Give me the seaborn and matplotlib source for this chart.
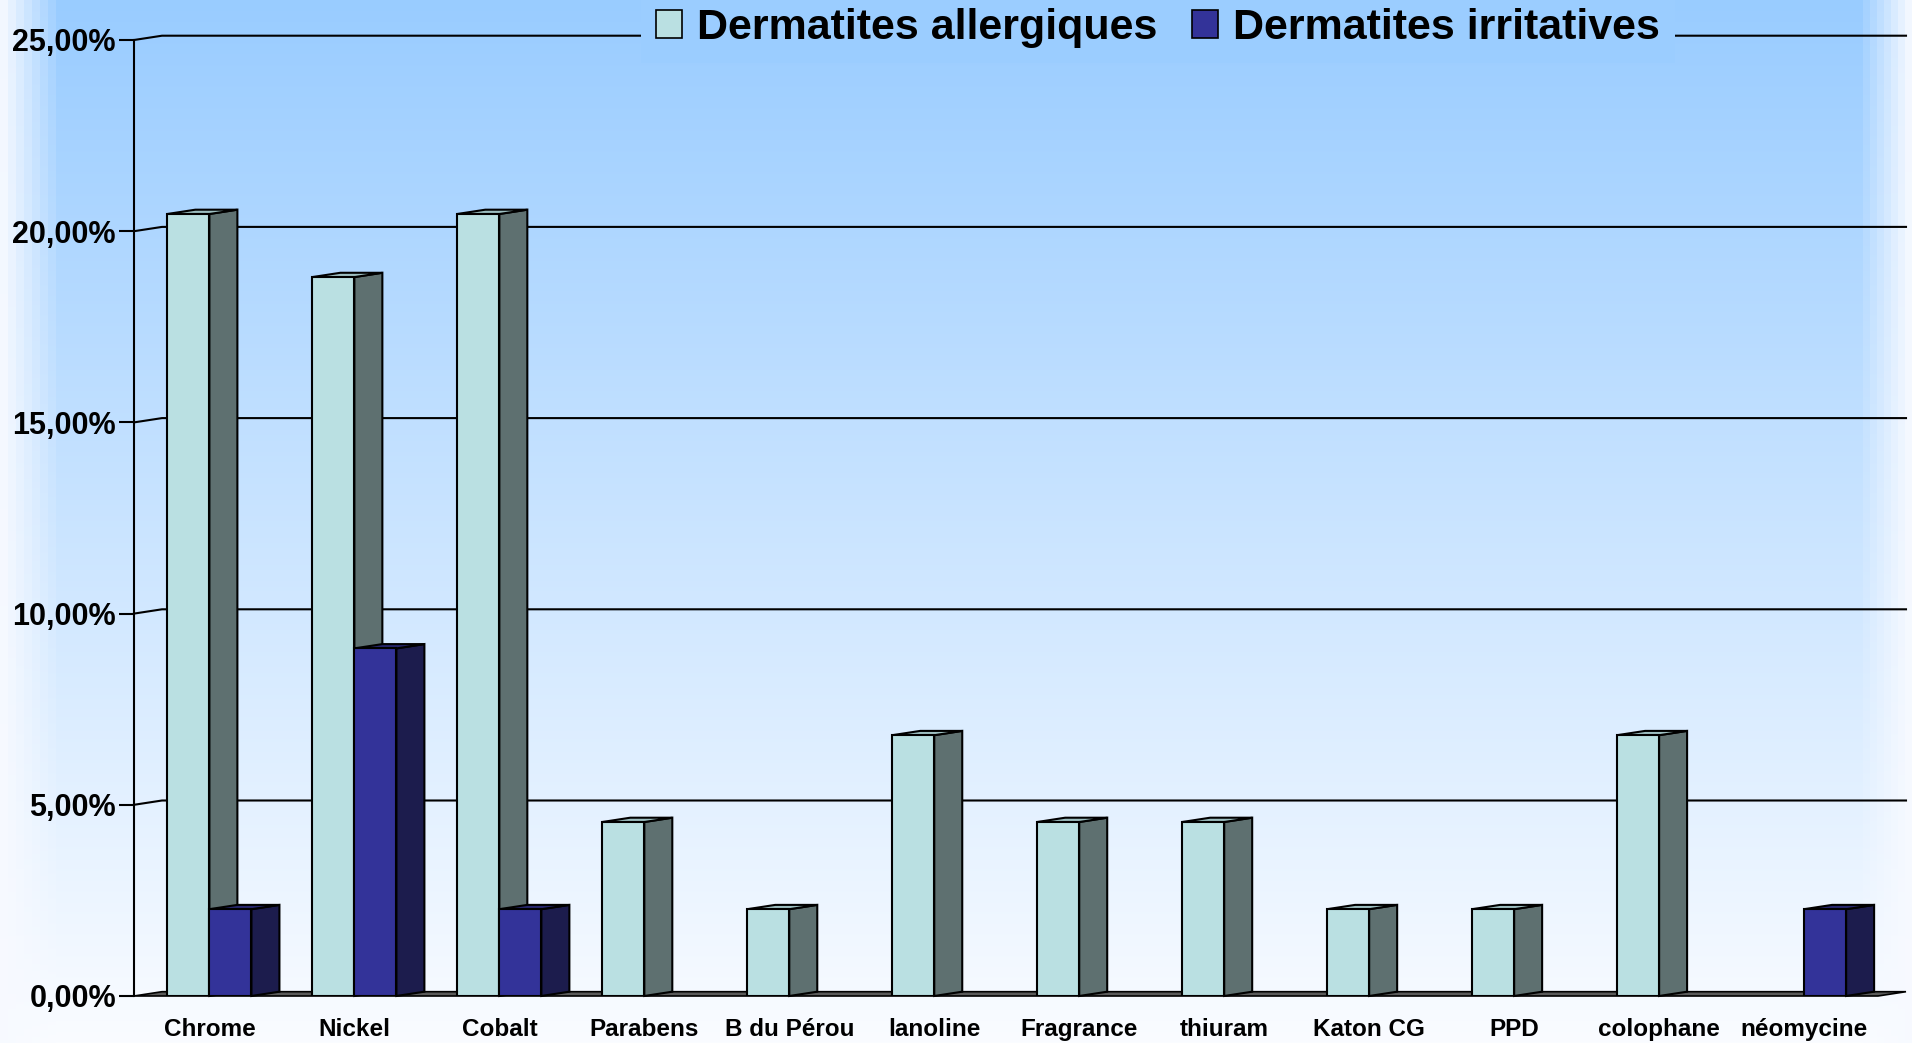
import numpy as np
import pandas as pd
import matplotlib
matplotlib.use("Agg")
import matplotlib.pyplot as plt
from matplotlib.patches import Polygon, Patch
from matplotlib.lines import Line2D
import seaborn as sns

# ---- data ----
categories = ['Chrome', 'Nickel', 'Cobalt', 'Parabens', 'B du Pérou', 'lanoline',
              'Fragrance', 'thiuram', 'Katon CG', 'PPD', 'colophane', 'néomycine']
allergiques = [20.45, 18.8, 20.45, 4.55, 2.27, 6.82, 4.55, 4.55, 2.27, 2.27, 6.82, 0.0]
irritatives = [2.27, 9.09, 2.27, 0.0, 0.0, 0.0, 0.0, 0.0, 0.0, 0.0, 0.0, 2.27]
series_names = ['Dermatites allergiques', 'Dermatites irritatives']
yticks = [0, 5, 10, 15, 20, 25]
ytick_labels = ['0,00%', '5,00%', '10,00%', '15,00%', '20,00%', '25,00%']

plt.rcParams['font.family'] = ['Liberation Sans', 'DejaVu Sans']

W, H = 1912, 1043
fig = plt.figure(figsize=(W / 100, H / 100), dpi=100)

# ---- background gradient ----
bg = fig.add_axes([0, 0, 1, 1], zorder=-10)
top = np.array([153, 204, 255]) / 255
bot = np.array([250, 252, 255]) / 255
ys = np.linspace(0, 1, H)[:, None, None]
img = top * (1 - ys) + bot * ys
img = np.repeat(img, W, axis=1)
xs = np.arange(W)
wl = np.clip(1 - np.floor(xs / 8) / 7, 0, 1)
wr = np.clip(1 - np.floor((W - 1 - xs) / 7) / 7, 0, 1)
wmix = np.maximum(wl, wr)[None, :, None]
img = img * (1 - wmix * 0.95) + np.array([0.97, 0.98, 1.0]) * wmix * 0.95
bg.imshow(img, aspect='auto', extent=[0, 1, 0, 1], interpolation='nearest')
bg.axis('off')

# ---- main axes ----
left, bottom = 134 / W, 1 - 996 / H
ax = fig.add_axes([left, bottom, 1744 / W, 956 / H])
ax.set_facecolor('none')

df = pd.DataFrame({
    'cat': categories * 2,
    'val': allergiques + irritatives,
    'serie': [series_names[0]] * len(categories) + [series_names[1]] * len(categories),
})
front_colors = ['#BAE0E2', '#333399']
side_colors = ['#5E7070', '#1C1C4D']
top_colors = ['#9DBFC1', '#27276E']

sns.barplot(data=df, x='cat', y='val', hue='serie', hue_order=series_names,
            palette=front_colors, saturation=1,
            width=0.58, ax=ax, edgecolor='black', linewidth=1.5,
            legend=False, errorbar=None, zorder=3)

xlim = (-0.52, 11.51)
ylim = (0, 25)
ax.set_xlim(*xlim)
ax.set_ylim(*ylim)

px_per_x = 1744 / (xlim[1] - xlim[0])
px_per_y = 956 / (ylim[1] - ylim[0])
dx = 28 / px_per_x
dy = 4.3 / px_per_y

for idx, cont in enumerate(ax.containers):
    for p in cont:
        h = p.get_height()
        if h <= 0:
            p.set_visible(False)
            continue
        x0 = p.get_x()
        x1 = x0 + p.get_width()
        side = Polygon([(x1, 0), (x1 + dx, dy), (x1 + dx, h + dy), (x1, h)],
                       closed=True, facecolor=side_colors[idx], edgecolor='black',
                       linewidth=1.5, zorder=2, clip_on=False)
        topf = Polygon([(x0, h), (x1, h), (x1 + dx, h + dy), (x0 + dx, h + dy)],
                       closed=True, facecolor=top_colors[idx], edgecolor='black',
                       linewidth=1.5, zorder=2, clip_on=False)
        ax.add_patch(side)
        ax.add_patch(topf)

# back-wall gridlines and left wall edges
for v in yticks[1:]:
    ax.add_line(Line2D([xlim[0], xlim[0] + dx, xlim[1] + dx], [v, v + dy, v + dy],
                       color='black', linewidth=1.5, zorder=0.5, clip_on=False))

# floor slab
floor = Polygon([(xlim[0], 0), (xlim[1], 0), (xlim[1] + dx, dy), (xlim[0] + dx, dy)],
                closed=True, facecolor='#5A5A5A', edgecolor='black', linewidth=1.2,
                zorder=1, clip_on=False)
ax.add_patch(floor)

for s in ['top', 'right', 'bottom']:
    ax.spines[s].set_visible(False)
ax.spines['left'].set_linewidth(1.5)
ax.spines['left'].set_color('black')

ax.set_yticks(yticks)
ax.set_yticklabels(ytick_labels, fontsize=22, fontweight='bold')
ax.tick_params(axis='y', direction='out', length=11, width=1.5, pad=2, color='black')
ax.tick_params(axis='x', length=0, pad=16)
ax.set_xticks(range(len(categories)))
ax.set_xticklabels(categories, fontsize=17.5, fontweight='bold')
ax.set_xlabel('')
ax.set_ylabel('')
ax.grid(False)

# legend
handles = [Patch(facecolor=front_colors[i], edgecolor='black', linewidth=1.2)
           for i in range(2)]
leg_bg = tuple(top * (1 - 24 / H) + bot * (24 / H))
leg = fig.legend(handles, series_names, loc='center', bbox_to_anchor=(0.6055, 0.973),
                 ncol=2, frameon=True, facecolor=leg_bg, edgecolor='none', framealpha=1,
                 prop={'family': 'Liberation Sans', 'weight': 'bold', 'size': 31},
                 handlelength=0.6, handleheight=0.6, handletextpad=0.35,
                 columnspacing=0.8, borderpad=0.35, borderaxespad=0)
leg.get_frame().set_boxstyle('square', pad=0)

fig.savefig('out.png', dpi=100)
